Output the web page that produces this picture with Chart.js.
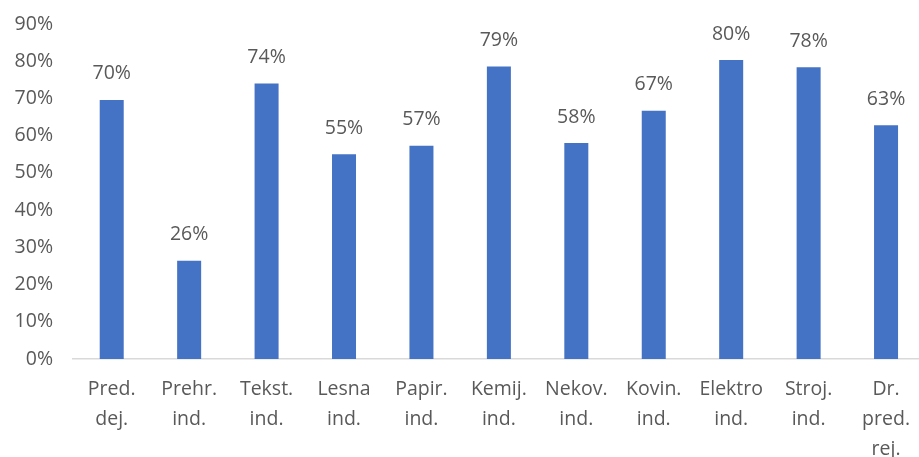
<!DOCTYPE html>
<html>
<head>
<meta charset="utf-8">
<script src="https://cdn.jsdelivr.net/npm/chart.js@4/dist/chart.umd.min.js"></script>
<style>
html,body{margin:0;padding:0;background:#fff;overflow:hidden;}
#wrap{width:919px;height:457px;position:relative;overflow:hidden;}
</style>
</head>
<body>
<div id="wrap"><canvas id="c" width="925" height="457"></canvas></div>
<script>
const categories = [
  ["Pred.", "dej."],
  ["Prehr.", "ind."],
  ["Tekst.", "ind."],
  ["Lesna", "ind."],
  ["Papir.", "ind."],
  ["Kemij.", "ind."],
  ["Nekov.", "ind."],
  ["Kovin.", "ind."],
  ["Elektro", "ind."],
  ["Stroj.", "ind."],
  ["Dr.", "pred.", "rej."]
];
const values = [69.6, 26.4, 74.0, 55.0, 57.3, 78.6, 58.0, 66.7, 80.3, 78.4, 62.8];
const yTicks = [0, 10, 20, 30, 40, 50, 60, 70, 80, 90];

const FONT = "'Open Sans', 'Liberation Sans', sans-serif";
const TEXT = '#595959';

const labelPlugin = {
  id: 'barLabels',
  afterDatasetsDraw(chart) {
    const ctx = chart.ctx;
    const meta = chart.getDatasetMeta(0);
    ctx.save();
    ctx.font = "19.5px " + FONT;
    ctx.fillStyle = TEXT;
    ctx.textAlign = 'center';
    ctx.textBaseline = 'middle';
    meta.data.forEach((bar, i) => {
      ctx.fillText(Math.round(values[i]) + '%', bar.x, bar.y - 26);
    });
    ctx.restore();
  }
};

new Chart(document.getElementById('c'), {
  type: 'bar',
  data: {
    labels: categories,
    datasets: [{
      data: values,
      backgroundColor: '#4472C4',
      borderWidth: 0,
      barPercentage: 0.31,
      categoryPercentage: 1.0
    }]
  },
  options: {
    responsive: false,
    animation: false,
    events: [],
    layout: { padding: { top: 24, right: 0, left: 0, bottom: 0 } },
    plugins: { legend: { display: false }, tooltip: { enabled: false } },
    scales: {
      x: {
        grid: { display: false, drawTicks: false },
        border: { display: true, color: '#d9d9d9', width: 1.5 },
        ticks: {
          color: TEXT,
          font: { family: FONT, size: 19.5, lineHeight: 1.55 },
          maxRotation: 0,
          autoSkip: false,
          padding: 15
        },
        afterFit(scale) { scale.height = 98; }
      },
      y: {
        min: 0,
        max: 90,
        afterBuildTicks(scale) { scale.ticks = yTicks.map(v => ({ value: v })); },
        grid: { display: false, drawTicks: false },
        border: { display: false },
        ticks: {
          color: TEXT,
          font: { family: FONT, size: 19.5 },
          padding: 20,
          callback: v => v + '%'
        },
        afterFit(scale) { scale.width = 73; scale.paddingTop = 0; scale.paddingBottom = 0; }
      }
    }
  },
  plugins: [labelPlugin]
});
</script>
</body>
</html>
